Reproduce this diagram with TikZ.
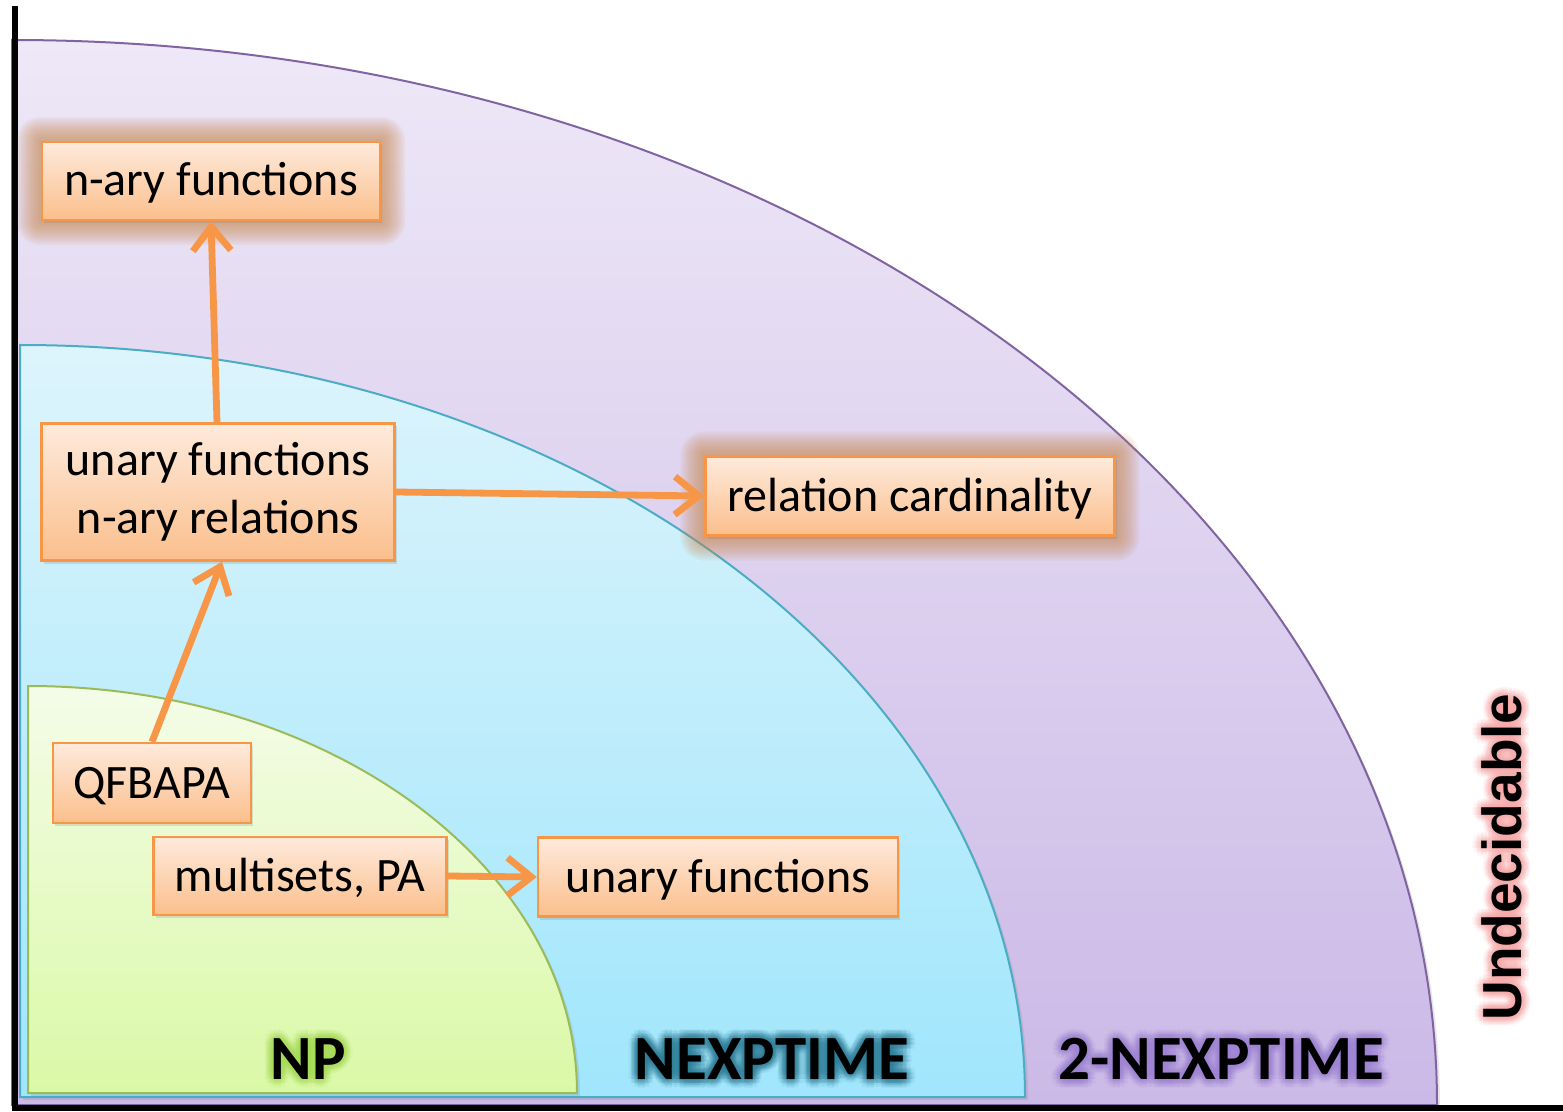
\documentclass[tikz,border=0pt]{standalone}
\usepackage{fontspec}
\setmainfont{Carlito}
\newfontfamily\headfont{Liberation Sans}
\usetikzlibrary{arrows.meta,shadows,calc}

\definecolor{purpletop}{HTML}{EEE8F7}
\definecolor{purplebot}{HTML}{CBB9E7}
\definecolor{purpleedge}{HTML}{8064A2}
\definecolor{cyantop}{HTML}{DDF4FC}
\definecolor{cyanbot}{HTML}{A0E6FC}
\definecolor{cyanedge}{HTML}{4BACC6}
\definecolor{greentop}{HTML}{F4FCE8}
\definecolor{greenbot}{HTML}{DAF9A6}
\definecolor{greenedge}{HTML}{9BBB59}
\definecolor{boxtop}{HTML}{FEEADC}
\definecolor{boxbot}{HTML}{FBBF8C}
\definecolor{boxedge}{HTML}{F79646}
\definecolor{halo}{HTML}{C98A50}
\definecolor{npglow}{HTML}{A8DC55}
\definecolor{nexpglow}{HTML}{2F7F99}
\definecolor{twoglow}{HTML}{9F84D4}
\definecolor{undglow}{HTML}{F5A3A3}

\pgfdeclarelayer{regions}
\pgfdeclarelayer{glow}
\pgfsetlayers{regions,glow,main}

% text with a soft coloured halo: name, position, halo colour, style, text
\newcommand{\glowlabel}[5]{%
  \foreach \r in {1.5,3,4.5,6,7.5,9}{%
    \foreach \a in {0,30,...,330}{%
      \node[#4, text=#3, opacity=0.07] at ($(#2)+(\a:\r)$) {#5};
    }%
  }%
  \node[#4] (#1) at (#2) {#5};
}

\tikzset{
  region/.style={line width=1pt, drop shadow={shadow xshift=1.5pt, shadow yshift=-1.5pt, opacity=0.2}},
  fact/.style={draw=boxedge, line width=1.2pt, top color=boxtop, bottom color=boxbot,
    inner sep=0pt, align=center, font=\fontsize{24}{29}\selectfont,
    drop shadow={shadow xshift=1.2pt, shadow yshift=-1.5pt, opacity=0.22}},
  oneline/.style={text height=17pt, text depth=2pt},
  link/.style={draw=boxedge, line width=3.4pt, -{Straight Barb[length=12pt,width=19pt]}},
  classlab/.style={font=\bfseries\fontsize{31.5}{36}\selectfont, inner sep=0pt},
  sidelab/.style={font=\headfont\bfseries\fontsize{27.5}{32}\selectfont, inner sep=0pt, rotate=90},
}

\begin{document}
\begin{tikzpicture}[x=0.5pt,y=-0.5pt]
\useasboundingbox (0,0) rectangle (1563,1112);

\begin{pgfonlayer}{regions}
  % 2-NEXPTIME region
  \shadedraw[region, top color=purpletop, bottom color=purplebot, draw=purpleedge]
    (12,1105) -- (12,40) .. controls (799,40) and (1437,517) .. (1437,1105) -- cycle;
  % NEXPTIME region
  \shadedraw[region, top color=cyantop, bottom color=cyanbot, draw=cyanedge]
    (20,1097) -- (20,345) .. controls (575,345) and (1025,682) .. (1025,1097) -- cycle;
  % NP region
  \shadedraw[region, top color=greentop, bottom color=greenbot, draw=greenedge]
    (28,1093) -- (28,686) .. controls (331,686) and (577,868) .. (577,1093) -- cycle;
  % axes
  \draw[line width=3pt, line join=miter] (15,6) -- (15,1108) -- (1563,1108);
\end{pgfonlayer}

% fragments
\node[fact, oneline, minimum width=169pt, minimum height=39pt] (nf) at (211,181) {n-ary functions};
\node[fact, minimum width=176.5pt, minimum height=68.5pt] (ur) at (218,492) {unary functions\\n-ary relations};
\node[fact, oneline, minimum width=204.5pt, minimum height=39.5pt] (rc) at (910,496) {relation cardinality};
\node[fact, oneline, minimum width=99pt, minimum height=40pt] (qf) at (152,783) {QFBAPA};
\node[fact, oneline, minimum width=146.5pt, minimum height=39pt] (ms) at (300,876) {multisets, PA};
\node[fact, oneline, minimum width=180pt, minimum height=39.5pt] (uf) at (718,877) {unary functions};

% halos behind the fragments on the undecidable edge
\begin{pgfonlayer}{glow}
  \foreach \g in {2,4,...,24}{
    \fill[halo, opacity=0.08, rounded corners=\g*0.5pt]
      ($(nf.north west)+(-\g,-\g)$) rectangle ($(nf.south east)+(\g,\g)$);
    \fill[halo, opacity=0.08, rounded corners=\g*0.5pt]
      ($(rc.north west)+(-\g,-\g)$) rectangle ($(rc.south east)+(\g,\g)$);
  }
\end{pgfonlayer}

% reductions
\draw[link] (ur.north -| 217,0) -- (nf.south -| 211,0);
\draw[link] (qf.north) -- ($(ur.south)+(4,0)$);
\draw[link] (ur.east) -- (rc.west);
\draw[link] (ms.east) -- (uf.west);

% complexity classes
\glowlabel{np}{308,1059}{npglow}{classlab}{NP}
\glowlabel{nexp}{772,1059}{nexpglow}{classlab}{NEXPTIME}
\glowlabel{twonexp}{1221,1059}{twoglow}{classlab}{2-NEXPTIME}
\glowlabel{und}{1502,857}{undglow}{sidelab}{Undecidable}
\end{tikzpicture}
\end{document}
